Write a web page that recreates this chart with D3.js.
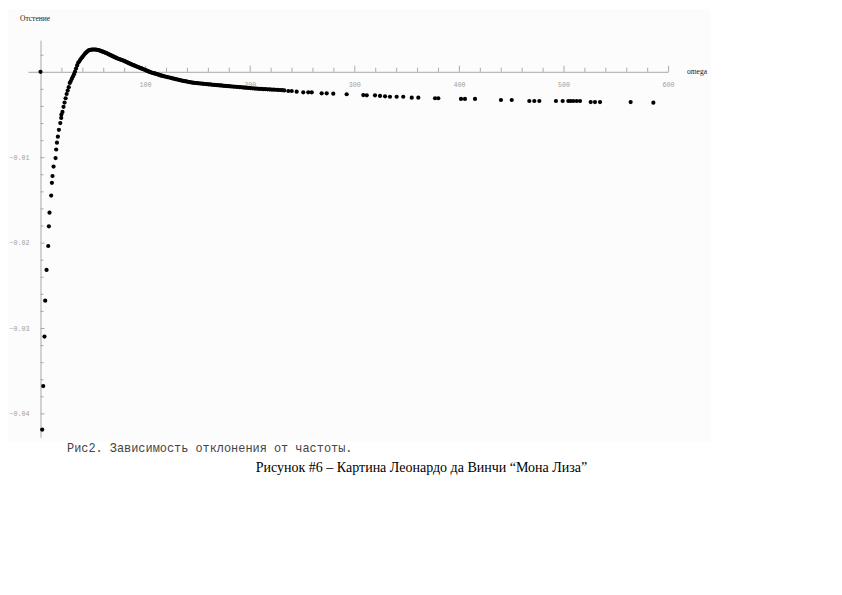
<!DOCTYPE html>
<html>
<head>
<meta charset="utf-8">
<script src="https://cdn.jsdelivr.net/npm/d3@7"></script>
<style>
  body { margin: 0; background: #fff; }
  svg { display: block; }
</style>
</head>
<body>
<svg id="chart" width="842" height="595"></svg>
<script>
// omega values and deviations
var omega = [
  0, 1.6, 2.6, 3.8, 4.5, 5.8, 7.4, 8.0, 8.6, 10.2, 10.9, 11.5, 12.5, 14.4, 15.0, 15.7, 16.6, 17.6, 18.9, 19.8,
  20, 21, 22, 23, 24, 25, 26, 27, 28, 29, 30, 31, 32, 33, 34, 35, 36, 37, 38, 39,
  40, 41, 42, 43, 44, 45, 46, 47, 48, 49, 50, 51, 52, 53, 54, 55, 56, 57, 58, 59,
  60, 61, 62, 63, 64, 65, 66, 67, 68, 69, 70, 71, 72, 73, 74, 75, 76, 77, 78, 79,
  80, 81, 82, 83, 84, 85, 86, 87, 88, 89, 90, 91, 92, 93, 94, 95, 96, 97, 98, 99,
  100, 101, 102, 103, 104, 105, 106, 107, 108, 109, 110, 111, 112, 113, 114, 115, 116, 117, 118, 119,
  120, 121.5, 123, 124.5, 126, 127.5, 129, 130.5, 132, 133.5, 135, 136.5, 138, 139.5, 141, 142.5, 144, 145.5, 147, 148.5,
  150, 151.5, 153, 154.5, 156, 157.5, 159, 160.5, 162, 163.5, 165, 166.5, 168, 169.5, 171, 172.5, 174, 175.5, 177, 178.5,
  180, 181.5, 183, 184.5, 186, 187.5, 189, 190.5, 192, 193.5, 195, 196.5, 198, 199.5, 201, 203, 205, 207, 209, 211,
  213, 215, 217, 219, 221, 223, 225, 227, 229, 231, 233,
  236.9, 240.2, 244.9, 251.2, 256, 259.3, 268.8, 273.6, 279.9, 292.7, 308.6, 311.9, 319.8, 324.6, 329.4, 334.1, 340.5, 346.8,
  354.9, 361.2, 377.2, 380.3, 402, 405.8, 415.4, 440.2, 450.5, 467.3, 472.1, 476.9, 492.8, 499.2, 504.6, 506.9, 509.4, 512.6,
  515.8, 526, 530.1, 534.9, 564.2, 585.9
];
var deviation = [
  0, -0.0419, -0.0368, -0.0310, -0.0268, -0.0232, -0.0204, -0.0181, -0.0165, -0.0145, -0.0130, -0.0122, -0.0111, -0.0101, -0.0091, -0.0083, -0.0076, -0.0068, -0.0060, -0.0054,
  -0.0050, -0.0047, -0.0041, -0.0036, -0.0031, -0.0026, -0.0022, -0.0018, -0.0013, -0.00108, -0.0008, -0.00055, -0.00028, 0.00002, 0.00038, 0.00075, 0.00105, 0.0012, 0.0014, 0.00158,
  0.00172, 0.00188, 0.00205, 0.00218, 0.0023, 0.00242, 0.0025, 0.00255, 0.00258, 0.0026, 0.00261, 0.00261, 0.00261, 0.0026, 0.00258, 0.00255, 0.00252, 0.00248, 0.00243, 0.00238,
  0.00233, 0.00229, 0.00224, 0.00218, 0.00213, 0.00207, 0.00201, 0.00195, 0.00189, 0.00183, 0.00177, 0.00171, 0.00165, 0.0016, 0.00155, 0.0015, 0.00146, 0.00141, 0.00137, 0.00132,
  0.00127, 0.00121, 0.00115, 0.0011, 0.00104, 0.00098, 0.00093, 0.00088, 0.00082, 0.00077, 0.00072, 0.00067, 0.00062, 0.00057, 0.00052, 0.00047, 0.00042, 0.00037, 0.00033, 0.00027,
  0.00022, 0.00016, 0.00011, 0.00005, 0.00001, -0.00005, -0.00008, -0.00012, -0.00015, -0.00019, -0.00022, -0.00026, -0.0003, -0.00034, -0.00038, -0.00042, -0.00045, -0.00049, -0.00052, -0.00055,
  -0.00058, -0.00063, -0.00067, -0.00071, -0.00076, -0.0008, -0.00085, -0.00089, -0.00094, -0.00098, -0.00103, -0.00107, -0.0011, -0.00113, -0.00117, -0.0012, -0.00123, -0.00127, -0.0013, -0.00131,
  -0.00133, -0.00135, -0.00137, -0.00139, -0.00141, -0.00143, -0.00145, -0.00147, -0.00148, -0.0015, -0.00152, -0.00154, -0.00156, -0.00157, -0.00159, -0.0016, -0.00162, -0.00164, -0.00165, -0.00167,
  -0.00168, -0.0017, -0.00172, -0.00173, -0.00175, -0.00176, -0.00178, -0.0018, -0.00181, -0.00183, -0.00185, -0.00186, -0.00188, -0.0019, -0.00192, -0.00194, -0.00196, -0.00198, -0.002, -0.00201,
  -0.00203, -0.00204, -0.00205, -0.00207, -0.00208, -0.00209, -0.0021, -0.00212, -0.00213, -0.00215, -0.00218,
  -0.00225, -0.00225, -0.00233, -0.0024, -0.0024, -0.0024, -0.00252, -0.00252, -0.00256, -0.00263, -0.00272, -0.00275, -0.00275, -0.00283, -0.00287, -0.00292, -0.00292, -0.00292,
  -0.00303, -0.00303, -0.0031, -0.0031, -0.00318, -0.00318, -0.00318, -0.0033, -0.0033, -0.00342, -0.00342, -0.00342, -0.00342, -0.00342, -0.00342, -0.00342, -0.00342, -0.00342,
  -0.00342, -0.00354, -0.00354, -0.00354, -0.00354, -0.00362
];

var xMajor = [100, 200, 300, 400, 500, 600];
var xMinor = d3.range(20, 601, 20);
var yMajor = [-0.01, -0.02, -0.03, -0.04];
var yMinor = [0.002, -0.002, -0.004, -0.006, -0.008, -0.012, -0.014, -0.016, -0.018, -0.022, -0.024, -0.026, -0.028,
              -0.032, -0.034, -0.036, -0.038, -0.042];

var xTitle = "omega";
var yTitle = "Отстение";
var caption1 = "Рис2. Зависимость отклонения от частоты.";
var caption2 = "Рисунок #6 – Картина Леонардо да Винчи “Мона Лиза”";

var svg = d3.select("#chart");

// very light panel behind the plot
svg.append("rect")
  .attr("x", 8).attr("y", 9)
  .attr("width", 703).attr("height", 433)
  .attr("fill", "#fcfcfc");

var x = d3.scaleLinear().domain([-12, 600]).range([27.95, 668.1]);
var y = d3.scaleLinear().domain([0.0037, -0.0428]).range([40.2, 437.3]);

var axisColor = "#a8a8a8";

// x axis: ticks upward, labels below
var gx = svg.append("g").attr("transform", "translate(0," + y(0) + ")");
gx.call(d3.axisTop(x).tickValues(xMinor.filter(function(d) { return xMajor.indexOf(d) == -1; }))
  .tickSize(4).tickSizeOuter(0).tickFormat(""));
gx.append("g").call(d3.axisTop(x).tickValues(xMajor).tickSize(6).tickFormat(""))
  .call(function(g) { g.select(".domain").remove(); });
gx.append("g").call(d3.axisBottom(x).tickValues(xMajor).tickSize(0).tickPadding(10))
  .call(function(g) { g.select(".domain").remove(); });

// y axis: ticks to the right, labels on the left
var gy = svg.append("g").attr("transform", "translate(" + x(0) + ",0)");
gy.call(d3.axisRight(y).tickValues(yMinor).tickSize(3).tickSizeOuter(0).tickFormat(""));
gy.append("g").call(d3.axisRight(y).tickValues(yMajor).tickSize(4).tickFormat(""))
  .call(function(g) { g.select(".domain").remove(); });
gy.append("g").call(d3.axisLeft(y).tickValues(yMajor).tickSize(0).tickPadding(11).tickFormat(d3.format(".2f")))
  .call(function(g) { g.select(".domain").remove(); });

svg.selectAll(".domain, .tick line").attr("stroke", axisColor);
svg.selectAll(".tick text")
  .attr("fill", "#a0a0a0")
  .attr("font-family", "Liberation Mono, monospace")
  .attr("font-size", 6.7);

// axis titles
svg.append("text")
  .attr("x", 687).attr("y", y(0) + 2.5)
  .attr("font-family", "Liberation Serif, serif")
  .attr("font-size", 7.5)
  .attr("fill", "#222")
  .text(xTitle);

svg.append("text")
  .attr("x", 20).attr("y", 20.5)
  .attr("font-family", "Liberation Serif, serif")
  .attr("font-size", 7.5)
  .attr("fill", "#222")
  .text(yTitle);

// points
var points = omega.map(function(d, i) { return {w: d, v: deviation[i]}; });
svg.append("g")
  .selectAll("circle")
  .data(points)
  .enter().append("circle")
  .attr("cx", function(d) { return x(d.w); })
  .attr("cy", function(d) { return y(d.v); })
  .attr("r", 2.1)
  .attr("fill", "#000");

// captions
svg.append("text")
  .attr("x", 67).attr("y", 452)
  .attr("font-family", "Liberation Mono, monospace")
  .attr("font-size", 11.9)
  .attr("fill", "#444")
  .text(caption1);

svg.append("text")
  .attr("x", 421.5).attr("y", 472)
  .attr("text-anchor", "middle")
  .attr("font-family", "Liberation Serif, serif")
  .attr("font-size", 14)
  .attr("fill", "#000")
  .text(caption2);
</script>
</body>
</html>
